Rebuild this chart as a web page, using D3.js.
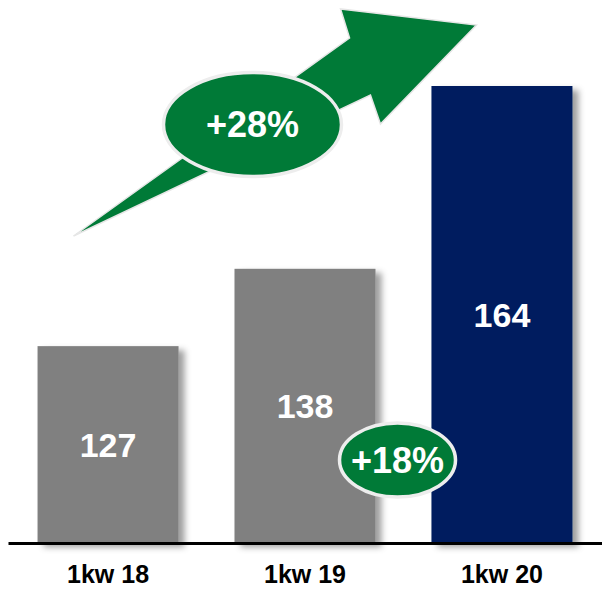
<!DOCTYPE html>
<html>
<head>
<meta charset="utf-8">
<script src="https://cdn.jsdelivr.net/npm/d3@7"></script>
<style>
  html, body { margin: 0; padding: 0; background: #fff; }
  svg { display: block; }
  text { font-family: "Liberation Sans", Arial, sans-serif; font-weight: bold; }
</style>
</head>
<body>
<svg id="chart" width="602" height="591"></svg>
<script>
// Quarterly totals (first quarter of each year)
const categories = ["1kw 18", "1kw 19", "1kw 20"];
const values = [127, 138, 164];
const barColors = ["#808080", "#808080", "#001F5E"];

// Growth callouts
const growthLabels = ["+28%", "+18%"];

const W = 602, H = 591;
const baseY = 543, topY = 86;

const svg = d3.select("#chart");

const x = d3.scaleBand()
  .domain(categories)
  .range([8, 602])
  .paddingInner(0.284)
  .paddingOuter(0.15);

const y = d3.scaleLinear()
  .domain([99, 164])
  .range([baseY, topY]);

const defs = svg.append("defs");
const shadow = defs.append("filter")
  .attr("id", "barShadow")
  .attr("x", "-10%").attr("y", "-10%")
  .attr("width", "130%").attr("height", "130%");
shadow.append("feDropShadow")
  .attr("dx", 6).attr("dy", 4)
  .attr("stdDeviation", 3)
  .attr("flood-color", "#000")
  .attr("flood-opacity", 0.38);

// Bars
svg.append("g").selectAll("rect")
  .data(values)
  .join("rect")
  .attr("x", (d, i) => x(categories[i]))
  .attr("y", d => y(d))
  .attr("width", x.bandwidth())
  .attr("height", d => baseY - y(d))
  .attr("fill", (d, i) => barColors[i])
  .attr("filter", "url(#barShadow)");

// Value labels centred in each bar
svg.append("g").selectAll("text")
  .data(values)
  .join("text")
  .attr("x", (d, i) => x(categories[i]) + x.bandwidth() / 2)
  .attr("y", d => (y(d) + baseY) / 2)
  .attr("dy", "0.36em")
  .attr("text-anchor", "middle")
  .attr("fill", "#fff")
  .style("font-size", "34px")
  .text(d => d);

// Category axis
const axis = svg.append("g")
  .attr("transform", `translate(0,${baseY})`)
  .call(d3.axisBottom(x).tickSize(0).tickSizeOuter(0).tickPadding(22));
axis.select(".domain").attr("stroke", "#000").attr("stroke-width", 3);
axis.selectAll(".tick text")
  .attr("fill", "#000")
  .style("font-size", "25px")
  .style("font-family", "'Liberation Sans', Arial, sans-serif")
  .style("font-weight", "bold");

// Growth arrow from the first bar towards the latest one
const b0 = x(categories[0]);
const b2 = x(categories[2]);
const arrowPts = [
  [b0 + 36, 236],   // tail
  [b0 + 312, 38],   // shaft upper edge at head
  [b0 + 303, 9],    // head upper barb
  [b2 + 45, 25],    // head tip
  [b2 - 51, 124],   // head lower barb
  [b2 - 61, 95],    // shaft lower edge at head
];
svg.append("path")
  .attr("d", d3.line()(arrowPts) + "Z")
  .attr("fill", "#007A37")
  .attr("stroke", "#e6e6e6")
  .attr("stroke-width", 1.5)
  .attr("stroke-linejoin", "miter");

// Growth callout ellipses
const callouts = [
  { label: growthLabels[0], cx: (b0 + b2) / 2 + 18, cy: 124.5, rx: 89, ry: 52 },
  { label: growthLabels[1], cx: x(categories[1]) + x.bandwidth() + 22, cy: 460, rx: 58, ry: 37 }
];
const cg = svg.append("g").selectAll("g")
  .data(callouts)
  .join("g");
cg.append("ellipse")
  .attr("cx", d => d.cx).attr("cy", d => d.cy)
  .attr("rx", d => d.rx).attr("ry", d => d.ry)
  .attr("fill", "#007A37")
  .attr("stroke", "#ededed")
  .attr("stroke-width", 3.5);
cg.append("text")
  .attr("x", d => d.cx)
  .attr("y", d => d.cy)
  .attr("dy", "0.36em")
  .attr("text-anchor", "middle")
  .attr("fill", "#fff")
  .style("font-size", "36px")
  .text(d => d.label);
</script>
</body>
</html>
